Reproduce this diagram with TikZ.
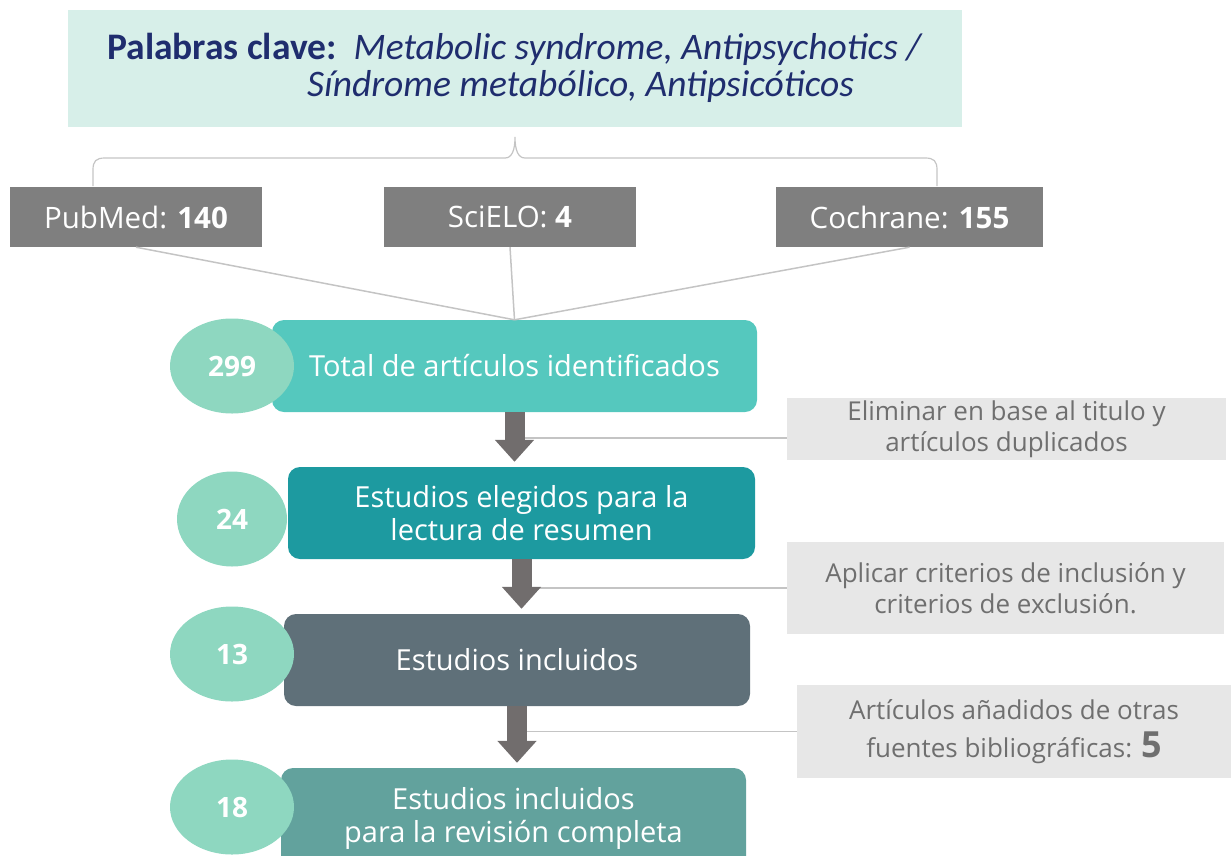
\documentclass[tikz,border=0pt]{standalone}
\usepackage{fontspec}
\setmainfont{Open Sans}
\newfontfamily\calib{Carlito}
\usetikzlibrary{arrows.meta,shapes.geometric}
\definecolor{mint}{HTML}{D7EFE9}
\definecolor{navy}{HTML}{1F2D6E}
\definecolor{srcgray}{HTML}{7F7F7F}
\definecolor{tealA}{HTML}{55C8BE}
\definecolor{tealB}{HTML}{1D9AA0}
\definecolor{slate}{HTML}{5F7079}
\definecolor{tealC}{HTML}{62A29D}
\definecolor{dotfill}{HTML}{8ED7C0}
\definecolor{arrowgray}{HTML}{716D6D}
\definecolor{notegray}{HTML}{E7E7E7}
\definecolor{notetext}{HTML}{6F6F6F}
\definecolor{linegray}{HTML}{C4C4C4}
\tikzset{
  srcbox/.style={fill=srcgray,text=white,minimum width=252pt,minimum height=60pt,
    inner sep=0pt,font=\fontsize{29.5}{32}\selectfont},
  stepbox/.style={rounded corners=12pt,text=white,align=center,minimum height=92pt,
    inner sep=0pt,font=\fontsize{29}{33}\selectfont},
  numdot/.style={ellipse,fill=dotfill,text=white,minimum width=124pt,minimum height=95pt,
    inner sep=0pt,font=\fontsize{28}{28}\selectfont\bfseries},
  notebox/.style={fill=notegray,text=notetext,align=center,inner sep=0pt,
    font=\fontsize{26}{31}\selectfont},
  flow/.style={-{Triangle[width=38pt,length=22pt]},line width=20pt,draw=arrowgray,shorten >=5pt},
  link/.style={draw=linegray,line width=1.5pt}
}
\begin{document}
\begin{tikzpicture}[x=1pt,y=-1pt]
\clip (0,0) rectangle (1231,855);
\node[fill=mint,minimum width=894pt,minimum height=117pt,inner sep=0pt,text=navy,align=left,
  font=\calib\fontsize{37.5}{37}\selectfont] (kw) at (515,68)
  {\textbf{Palabras clave:}\ \ \textit{Metabolic syndrome, Antipsychotics /}\\
   \hspace*{200pt}\textit{Síndrome metabólico, Antipsicóticos}};
\draw[draw=linegray,line width=1.2pt] (93,186) -- (93,170) .. controls (93,161) and (96,158) .. (105,158)
  -- (505,158) .. controls (512,158) and (515,150) .. (515,137)
  .. controls (515,150) and (518,158) .. (525,158) -- (925,158)
  .. controls (934,158) and (937,161) .. (937,170) -- (937,186);
\foreach \name/\lbl/\num/\x/\w in {pub/PubMed/140/136/252, sci/SciELO/4/510/252, coch/Cochrane/155/909.5/267}
  \node[srcbox,minimum width=\w pt] (\name) at (\x,217) {\lbl: \textbf{\num}};
\node[stepbox,fill=tealA,minimum width=485pt] (tot) at (514.5,366) {Total de artículos identificados};
\node[stepbox,fill=tealB,minimum width=467pt] (eleg) at (521.5,513) {Estudios elegidos para la\\lectura de resumen};
\node[stepbox,fill=slate,minimum width=466pt] (incl) at (517,660) {Estudios incluidos};
\node[stepbox,fill=tealC,minimum width=465pt,minimum height=100pt] (rev) at (513.5,818) {Estudios incluidos\\para la revisión completa};
\foreach \s in {pub,sci,coch}
  \draw[link] (\s.south) -- (tot.north);
\foreach \y/\num/\w in {366/299/124, 519/24/110, 654/13/124, 807/18/124}
  \node[numdot,minimum width=\w pt] (n\num) at (232,\y) {\num};
\node[notebox,minimum width=439pt,minimum height=62pt] (elim) at (1006.5,429)
  {Eliminar en base al titulo y\\artículos duplicados};
\node[notebox,minimum width=437pt,minimum height=92pt] (apl) at (1005.5,588)
  {Aplicar criterios de inclusión y\\criterios de exclusión.};
\node[notebox,minimum width=434pt,minimum height=93pt,font=\fontsize{26}{38}\selectfont] (add) at (1014,731.5)
  {Artículos añadidos de otras\\fuentes bibliográficas: {\fontsize{36}{36}\selectfont\bfseries 5}};
\draw[link] ([yshift=-9pt]elim.west) -- ([yshift=-9pt]elim.west -| tot.south);
\draw[link] (apl.west) -- (apl.west -| eleg.south);
\draw[link] (add.west) -- (add.west -| incl.south);
\draw[flow] (tot.south) -- (tot.south |- eleg.north);
\draw[flow] (eleg.south) -- (eleg.south |- incl.north);
\draw[flow] (incl.south) -- (incl.south |- rev.north);
\end{tikzpicture}
\end{document}
